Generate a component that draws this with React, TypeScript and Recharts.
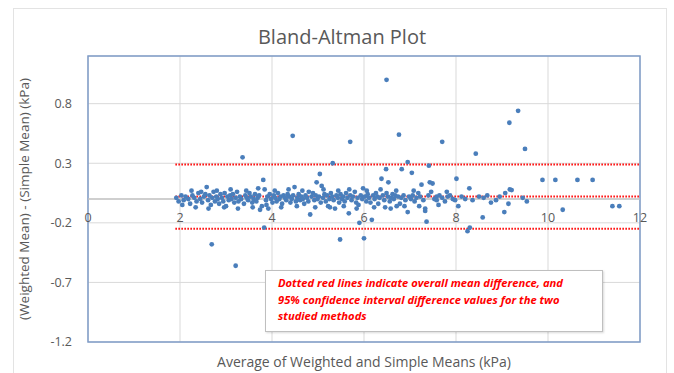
import React from 'react';
import {
  ScatterChart, Scatter, XAxis, YAxis, CartesianGrid, ReferenceLine, ReferenceArea, Label,
} from 'recharts';

// Bland-Altman data: [average (kPa), difference (kPa)]
const pointsDense: [number, number][] = [
  [1.92,0.01],[1.97,-0.02],[2.03,0.03],[2.08,-0.01],[2.12,0.02],[2.18,0.00],[2.22,-0.04],[2.27,0.03],[2.31,0.01],[2.36,-0.02],
  [2.40,0.05],[2.44,0.00],[2.48,-0.03],[2.52,0.02],[2.55,0.04],[2.58,0.10],[2.61,-0.01],[2.64,0.03],[2.67,-0.05],[2.70,0.01],
  [2.73,0.06],[2.76,-0.02],[2.79,0.02],[2.82,0.00],[2.85,-0.04],[2.88,0.04],[2.91,0.01],[2.94,-0.02],[2.97,0.05],[3.00,-0.06],
  [3.03,0.02],[3.06,-0.01],[3.09,0.03],[3.12,0.00],[3.15,0.04],[3.18,-0.03],[3.21,0.01],[3.24,0.06],[3.27,-0.02],[3.30,0.02],
  [3.33,0.00],[3.39,-0.04],[3.42,0.03],[3.45,0.01],[3.48,-0.01],[3.51,0.05],[3.54,0.02],[3.57,-0.03],[3.60,0.00],[3.63,0.04],
  [3.66,-0.02],[3.69,0.01],[3.72,0.03],[3.74,-0.09],[3.78,-0.06],[3.81,0.16],[3.84,0.08],[3.87,-0.01],[3.90,0.02],[3.92,-0.08],
  [3.95,0.04],[3.98,0.00],[4.01,-0.03],[4.04,0.03],[4.07,0.01],[4.10,-0.02],[4.13,0.05],[4.16,0.00],[4.19,0.02],[4.22,-0.04],
  [4.25,0.03],[4.28,0.01],[4.31,-0.01],[4.34,0.04],[4.37,0.02],[4.40,-0.03],[4.43,0.00],[4.46,0.03],[4.49,0.10],[4.52,-0.02],
  [4.55,0.01],[4.58,0.04],[4.61,-0.01],[4.64,0.02],[4.67,0.00],[4.70,-0.04],[4.73,0.03],[4.76,0.01],[4.79,-0.02],[4.83,-0.13],
  [4.86,0.02],[4.89,0.05],[4.92,-0.01],[4.95,0.03],[4.97,0.14],[4.99,0.00],[5.02,0.02],[5.04,0.21],[5.06,-0.03],[5.08,0.11],
  [5.11,0.01],[5.14,0.04],[5.17,-0.02],[5.20,0.03],[5.22,-0.06],[5.25,0.00],[5.28,0.05],[5.31,0.02],[5.34,-0.01],[5.37,-0.08],
  [5.40,0.03],[5.43,0.01],[5.46,-0.03],[5.49,0.04],[5.52,0.00],[5.55,0.02],[5.58,-0.02],[5.61,0.05],[5.64,0.01],[5.67,-0.12],
  [5.70,0.03],[5.73,-0.01],[5.76,0.02],[5.80,0.06],[5.83,-0.03],[5.86,0.01],[5.88,-0.05],[5.90,-0.20],[5.93,0.03],[5.96,0.00],
  [5.98,0.09],[6.02,0.02],[6.05,-0.02],[6.08,0.04],[6.11,0.01],[6.14,-0.03],[6.17,-0.175],[6.20,0.03],[6.23,0.00],[6.26,0.05],
  [6.29,0.02],[6.31,-0.04],[6.34,0.01],[6.38,0.17],[6.41,0.03],[6.44,-0.01],[6.46,-0.07],[6.49,0.05],[6.52,0.02],[6.53,0.14],
  [6.56,-0.02],[6.59,0.01],[6.62,0.04],[6.65,0.00],[6.68,0.03],[6.71,-0.06],[6.74,0.02],[6.78,-0.04],[6.81,0.01],[6.86,0.03],
  [6.90,-0.01],[6.95,-0.11],[6.98,0.02],[7.02,0.00],[7.06,0.03],[7.10,-0.02],[7.14,0.01],[7.18,0.05],[7.22,0.02],[7.25,0.12],
  [7.29,-0.01],[7.33,-0.08],[7.33,-0.10],[7.36,-0.19],[7.40,0.03],[7.43,0.14],[7.49,0.13],[7.53,0.00],[7.58,0.02],[7.58,-0.01],
  [7.64,0.03],[7.70,0.01],[7.76,-0.02],[7.82,0.02],[7.87,0.03],[7.93,0.00],[7.98,-0.01],[8.01,0.17],[8.05,-0.06],
  // second layer of the dense band
  [2.05,-0.05],[2.25,0.07],[2.34,-0.07],[2.46,0.06],[2.62,-0.08],[2.80,0.07],[2.96,-0.07],[3.10,0.08],[3.26,-0.08],[3.44,0.07],
  [3.58,-0.07],[3.70,0.09],[3.88,-0.05],[4.06,0.07],[4.20,-0.07],[4.36,0.08],[4.54,-0.06],[4.66,0.07],[4.80,0.06],[4.94,-0.07],
  [5.12,0.08],[5.26,-0.07],[5.44,0.07],[5.56,-0.06],[5.68,0.08],[5.84,-0.08],[6.06,0.07],[6.22,-0.07],[6.36,0.08],[6.58,-0.08],
  [6.70,0.07],[6.88,-0.06],[7.08,0.07],[7.20,-0.06],[7.46,0.06],[7.62,-0.05],[7.80,0.06],
];

const pointsSparse: [number, number][] = [
  [8.12,0.02],[8.20,0.00],[8.25,-0.27],[8.29,0.09],[8.30,-0.24],[8.36,-0.01],[8.43,0.38],[8.50,0.02],[8.58,-0.155],[8.60,0.01],
  [8.68,0.03],[8.76,-0.03],[8.87,-0.01],[8.95,0.02],[9.05,-0.11],[9.07,0.05],[9.14,-0.04],[9.16,0.64],[9.17,0.08],[9.21,0.075],
  [9.35,0.74],[9.45,0.01],[9.50,0.42],[9.54,-0.02],[9.88,0.16],[10.16,0.16],[10.32,-0.09],[10.64,0.16],[10.97,0.16],
  [11.40,-0.06],[11.55,-0.06],
];

const pointsOutliers: [number, number][] = [
  [2.69,-0.38],[3.21,-0.56],[3.83,-0.24],[5.48,-0.34],[6.00,-0.33],[3.36,0.35],[4.45,0.53],[5.70,0.48],[6.49,1.0],
  [6.76,0.54],[7.70,0.48],[5.32,0.30],[6.95,0.31],[7.41,0.28],[6.48,0.25],[6.82,0.25],[7.04,0.22],
];

const meanDiff = 0.02;
const upperLimit = 0.29;
const lowerLimit = -0.25;
const limitStartX = 1.9;

const xTicks = [0, 2, 4, 6, 8, 10, 12];
const yTicks = [-1.2, -0.7, -0.2, 0.3, 0.8];

const titleText = 'Bland-Altman Plot';
const xTitle = 'Average of Weighted and Simple Means (kPa)';
const yTitle = '(Weighted Mean) - (Simple Mean) (kPa)';
const noteLines = [
  'Dotted red lines indicate overall mean difference, and',
  '95% confidence interval difference values for the two',
  'studied methods',
];

const data = [...pointsDense, ...pointsSparse, ...pointsOutliers].map(([x, y]) => ({ x, y }));

const FONT = '"Open Sans", "Liberation Sans", sans-serif';
const TEXT_COLOR = '#595959';

const Dot = (props: any) => (
  <circle cx={props.cx} cy={props.cy} r={2.4} fill="#4A7EBB" />
);

const XTick = (props: any) => {
  const { x, payload } = props;
  return (
    <text x={x} y={222} textAnchor="middle" fontSize={12.5} fill={TEXT_COLOR} fontFamily={FONT}>
      {payload.value}
    </text>
  );
};

export default function App() {
  return (
    <div style={{ position: 'absolute', left: 0, top: 0, width: 674, height: 373, background: '#fff', overflow: 'hidden' }}>
      <div style={{ position: 'absolute', left: 13, top: 8, width: 654, height: 400, border: '1px solid #E3E3E3', boxSizing: 'border-box' }} />
      <ScatterChart
        width={674}
        height={373}
        margin={{ top: 56, right: 34, bottom: 0, left: 48 }}
        style={{ position: 'absolute', left: 0, top: 0 }}
      >
        <CartesianGrid stroke="#D9D9D9" strokeWidth={1} />
        <XAxis
          type="number"
          dataKey="x"
          domain={[0, 12]}
          ticks={xTicks}
          axisLine={false}
          tickLine={false}
          tick={<XTick />}
          height={31}
          interval={0}
        >
          <Label value={xTitle} position="insideBottom" offset={6} fill={TEXT_COLOR} fontSize={14} fontFamily={FONT} />
        </XAxis>
        <YAxis
          type="number"
          dataKey="y"
          domain={[-1.2, 1.2]}
          ticks={yTicks}
          axisLine={false}
          tickLine={false}
          tickSize={6}
          tickMargin={10}
          width={40}
          interval={0}
          tick={{ fill: TEXT_COLOR, fontSize: 12.5, fontFamily: FONT }}
          allowDataOverflow
        >
          <Label value={yTitle} angle={-90} position="insideLeft" offset={-24} fill={TEXT_COLOR} fontSize={13.5} fontFamily={FONT} style={{ textAnchor: 'middle' }} />
        </YAxis>
        <ReferenceLine y={0} stroke="#BFBFBF" strokeWidth={1.5} />
        <ReferenceArea x1={0} x2={12} y1={-1.2} y2={1.2} fill="none" stroke="#7F9CC8" strokeWidth={1.5} />
        <ReferenceLine segment={[{ x: limitStartX, y: upperLimit }, { x: 12, y: upperLimit }]} stroke="#FF0000" strokeWidth={2} strokeDasharray="1.5 1.5" />
        <ReferenceLine segment={[{ x: limitStartX, y: meanDiff }, { x: 12, y: meanDiff }]} stroke="#FF0000" strokeWidth={2} strokeDasharray="1.5 1.5" />
        <ReferenceLine segment={[{ x: limitStartX, y: lowerLimit }, { x: 12, y: lowerLimit }]} stroke="#FF0000" strokeWidth={2} strokeDasharray="1.5 1.5" />
        <Scatter data={data} shape={<Dot />} isAnimationActive={false} />
      </ScatterChart>
      <div style={{ position: 'absolute', left: 0, top: 23, width: 684, textAlign: 'center', fontFamily: FONT, fontSize: 20, color: TEXT_COLOR }}>
        {titleText}
      </div>
      <div style={{
        position: 'absolute', left: 265, top: 270, width: 338, height: 62, boxSizing: 'border-box',
        background: '#fff', border: '1px solid #BFBFBF', boxShadow: '1px 1px 2px rgba(0,0,0,0.15)',
        padding: '4px 8px 0 12px', fontFamily: FONT, fontSize: 11.2, fontWeight: 700, fontStyle: 'italic',
        color: '#FF0000', lineHeight: '16.5px', whiteSpace: 'nowrap',
      }}>
        {noteLines.map((l, i) => <div key={i}>{l}</div>)}
      </div>
    </div>
  );
}
